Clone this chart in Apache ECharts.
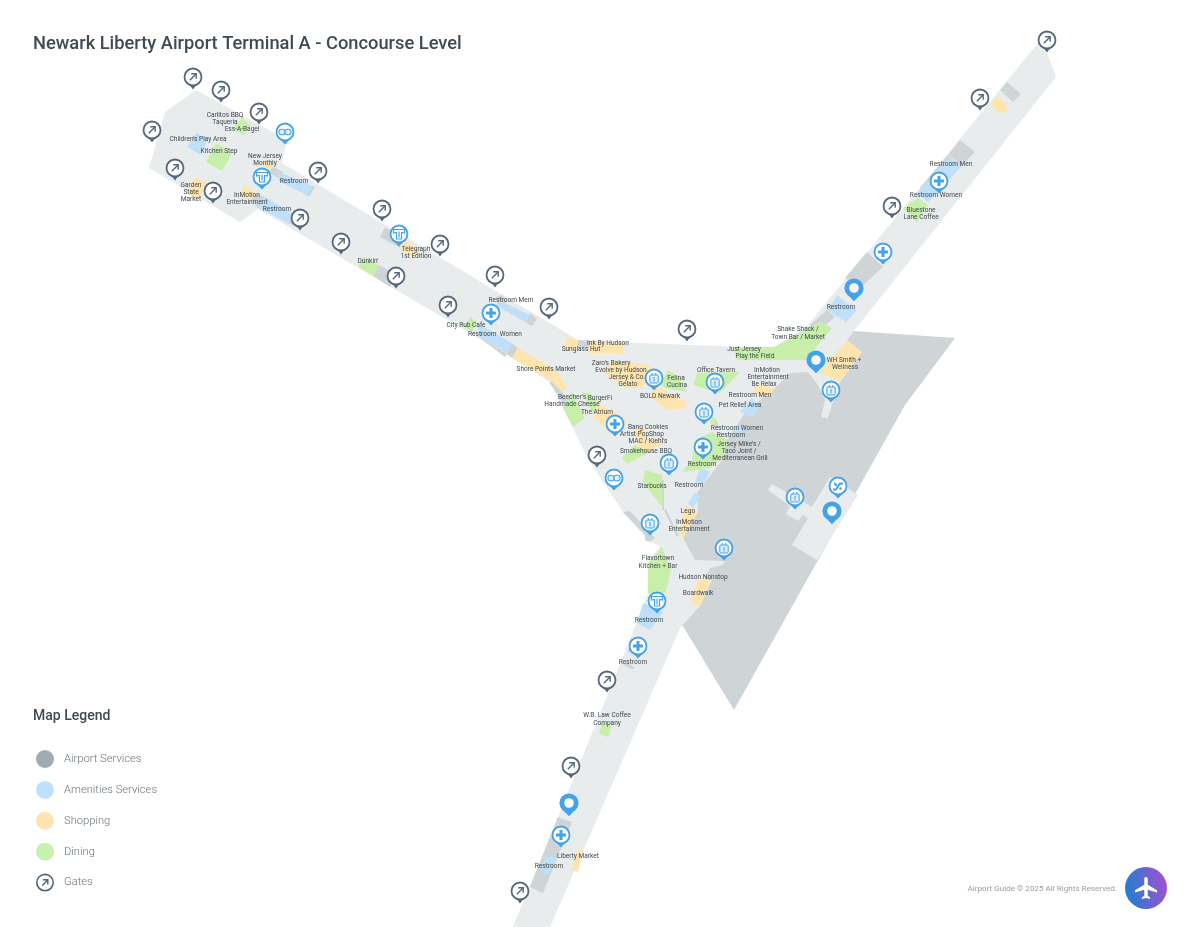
<!DOCTYPE html>
<html>
<head>
<meta charset="utf-8">
<title>Newark Liberty Airport Terminal A - Concourse Level</title>
<script src="https://cdn.jsdelivr.net/npm/echarts@6/dist/echarts.min.js"></script>
<style>
  html, body { margin: 0; padding: 0; background: #fff; }
  #chart { width: 1200px; height: 927px; }
</style>
</head>
<body>
<div id="chart"></div>
<script>
// map outlines
var apronArea = [
  [[853,331],[955,338],[905,405],[734,710],[681,623],[680,500],[720,400],[775,360]]
];
var floorAreas = [
  [[196,90],[287,140],[282,163],[578,340],[640,343],[772,348],[808,325],[1038,43],[1047,53],[1056,77],[853,332],[847,340],[862,352],[840,382],[836,397],[832,404],[828,418],[821,417],[825,400],[818,385],[808,372],[790,373],[773,390],[747,410],[737,425],[727,440],[722,460],[697,493],[698,512],[683,538],[695,560],[725,561],[723,565],[710,568],[705,580],[712,580],[700,606],[680,628],[550,927],[513,927],[623,657],[648,593],[648,563],[660,546],[650,542],[623,512],[587,457],[550,382],[512,358],[258,209],[240,222],[149,168],[165,112]],
  [[768,490],[772,484],[812,507],[830,477],[858,495],[817,560],[792,545],[808,518],[803,515],[798,521],[786,514],[790,506]]
];
var airportServices = [
  [[273,167],[283,172],[278,178],[268,172]],
  [[313,186],[306,195],[309,197],[315,187]],
  [[251,200],[256,193],[265,197],[258,208]],
  [[288,223],[293,214],[300,221],[298,228]],
  [[385,227],[402,237],[400,248],[380,237]],
  [[379,265],[397,275],[390,287],[373,276]],
  [[496,297],[502,295],[507,302],[498,306]],
  [[530,313],[537,319],[532,326],[525,322]],
  [[472,332],[480,337],[507,354],[505,357]],
  [[512,343],[518,348],[512,358],[506,353]],
  [[549,382],[555,381],[567,400],[563,403]],
  [[578,340],[593,341],[593,348],[578,347]],
  [[714,422],[717,421],[719,428],[715,428]],
  [[662,480],[664,480],[664,510],[662,510]],
  [[664,510],[666,509],[679,536],[677,537]],
  [[623,512],[630,511],[655,538],[650,542],[645,540],[645,535]],
  [[627,662],[635,668],[632,669],[623,665]],
  [[558,817],[572,822],[543,893],[530,887]],
  [[960,140],[975,152],[962,165],[948,155]],
  [[948,155],[951,158],[925,190],[920,188]],
  [[867,252],[883,267],[860,288],[845,278]],
  [[827,310],[835,317],[820,330],[810,325]],
  [[1007,82],[1021,94],[1013,102],[1000,90]]
];
var amenitiesServices = [
  [[197,133],[208,140],[201,155],[187,147]],
  [[279,172],[313,186],[306,195],[279,181]],
  [[265,197],[293,214],[288,223],[258,208]],
  [[502,302],[530,315],[525,322],[495,305]],
  [[477,323],[512,343],[507,353],[480,337]],
  [[740,412],[752,398],[760,408],[752,417]],
  [[737,425],[745,427],[740,435],[733,430]],
  [[700,468],[710,472],[703,485],[695,482]],
  [[695,493],[700,497],[693,508],[688,503]],
  [[643,603],[663,612],[650,630],[637,623]],
  [[632,640],[645,645],[640,657],[627,652]],
  [[545,855],[557,858],[548,875],[540,872]],
  [[950,157],[962,166],[928,202],[917,193]],
  [[838,295],[850,307],[842,320],[827,310]],
  [[846,303],[857,310],[846,322],[838,316]]
];
var shoppingAreas = [
  [[195,177],[207,183],[198,200],[187,193]],
  [[245,186],[256,193],[251,200],[238,195]],
  [[273,166],[267,172],[262,167],[265,160]],
  [[405,241],[420,250],[415,258],[400,250]],
  [[518,348],[550,367],[558,373],[567,388],[562,392],[550,380],[512,358]],
  [[568,337],[578,340],[578,350],[563,350]],
  [[590,342],[623,343],[623,353],[587,353]],
  [[612,362],[640,363],[655,368],[642,388],[625,388],[603,372]],
  [[655,385],[687,402],[686,408],[668,410],[650,397]],
  [[598,403],[627,420],[615,437],[593,417]],
  [[637,425],[647,430],[643,440],[634,437]],
  [[643,438],[667,442],[645,453],[635,445]],
  [[847,340],[862,352],[840,382],[820,372]],
  [[757,385],[775,388],[768,397],[753,393]],
  [[686,505],[698,512],[683,538],[679,533],[682,517]],
  [[698,580],[711,580],[700,606],[690,603]],
  [[577,850],[583,850],[578,872],[572,870]],
  [[997,96],[1009,107],[1002,114],[990,105]]
];
var diningAreas = [
  [[242,118],[251,125],[243,135],[233,128]],
  [[216,143],[232,153],[222,171],[206,162]],
  [[363,257],[379,265],[373,276],[358,267]],
  [[470,317],[477,322],[472,332],[465,327]],
  [[572,392],[585,418],[573,427],[563,407]],
  [[582,392],[590,393],[598,403],[593,415]],
  [[668,370],[680,378],[687,392],[665,388],[660,384]],
  [[697,373],[740,372],[720,393],[693,385]],
  [[622,458],[635,445],[650,452],[627,464]],
  [[645,470],[662,475],[663,508],[643,482]],
  [[695,440],[712,432],[727,440],[725,455],[710,468],[682,472],[692,460]],
  [[712,416],[717,420],[714,426],[710,423]],
  [[648,593],[648,563],[662,547],[671,570],[667,587],[665,593]],
  [[602,722],[612,725],[608,737],[599,734]],
  [[918,198],[928,205],[917,222],[903,208]],
  [[775,347],[820,322],[832,328],[806,360],[737,360],[733,347]]
];

// pins: circle centre of each marker
var gatePins = [[193,77],[221,90],[259,112],[152,130],[175,168],[213,191],[318,171],[300,218],[382,209],[341,242],[440,244],[396,276],[495,275],[448,305],[549,307],[687,329],[892,206],[980,98],[1047,40],[597,455],[607,680],[571,766],[520,891]];
var plusPins = [[491,313],[615,424],[703,447],[939,181],[883,252],[638,646],[561,835]];
var shirtPins = [[262,177],[399,234],[657,601]];
var bagPins = [[654,378],[715,382],[704,412],[669,463],[831,390],[795,497],[650,523],[724,548]];
var glassesPins = [[285,132],[614,478]];
var escalatorPins = [[838,486]];
var locationPins = [[854,288],[816,360],[832,511],[569,803]];

// place names: centre x, centre y, text
var placeLabels = [
  [225,115,"Carlitos BBQ"],[225,122,"Taqueria"],[242,129,"Ess-A-Bagel"],
  [198,139,"Children's Play Area"],[219,151,"Kitchen Step"],
  [265,156,"New Jersey"],[265,163,"Monthly"],
  [191,185,"Garden"],[191,192,"State"],[191,199,"Market"],
  [247,195,"InMotion"],[247,202,"Entertainment"],
  [294,181,"Restroom"],[277,209,"Restroom"],[368,261,"Dunkin'"],
  [416,249,"Telegraph"],[416,256,"1st Edition"],
  [511,300,"Restroom Mem"],[466,325,"City Rub Cafe"],[495,334,"Restroom  Women"],
  [546,369,"Shore Points Market"],[581,349,"Sunglass Hut"],[608,343,"Ink By Hudson"],
  [611,363,"Zaro's Bakery"],[621,370,"Evolve by Hudson"],[627,377,"Jersey & Co."],[628,384,"Gelato"],
  [660,396,"BOLD Newark"],[676,378,"Felina"],[677,385,"Cucina"],
  [572,397,"Beecher's"],[600,398,"BurgerFi"],[572,404,"Handmade Cheese"],[597,412,"The Atrium"],
  [648,427,"Bang Cookies"],[642,434,"Artist PopShop"],[648,441,"MAC / Kiehl's"],[646,451,"Smokehouse BBQ"],
  [652,486,"Starbucks"],[689,485,"Restroom"],[688,511,"Lego"],
  [689,522,"InMotion"],[689,529,"Entertainment"],
  [658,558,"Flavortown"],[658,566,"Kitchen + Bar"],[703,577,"Hudson Nonstop"],[698,593,"Boardwalk"],
  [649,620,"Restroom"],[633,662,"Restroom"],
  [607,715,"W.B. Law Coffee"],[607,723,"Company"],
  [578,856,"Liberty Market"],[549,866,"Restroom"],
  [716,370,"Office Tavern"],[767,370,"InMotion"],[768,377,"Entertainment"],[764,384,"Be Relax"],
  [744,349,"Just Jersey"],[755,356,"Play the Field"],
  [798,329,"Shake Shack /"],[798,337,"Town Bar / Market"],
  [844,360,"WH Smith +"],[845,367,"Wellness"],
  [750,395,"Restroom Men"],[740,405,"Pet Relief Area"],
  [737,428,"Restroom Women"],[731,435,"Restroom"],
  [739,444,"Jersey Mike's /"],[739,451,"Taco Joint /"],[740,458,"Mediterranean Grill"],[702,464,"Restroom"],
  [841,307,"Restroom"],[951,164,"Restroom Men"],[936,195,"Restroom Women"],
  [921,210,"Bluestone"],[921,217,"Lane Coffee"]
];

var logoPoint = [[1146,888]];

var legendNames = ["Airport Services", "Amenities Services", "Shopping", "Dining", "Gates"];
var legendColors = ["#a2abb0", "#bfe0f8", "#ffe3b2", "#c8f0ae", "#4f6478"];

var GATE = "#55687b", BLUE = "#42a2ea", FONT = "Roboto, sans-serif";
var gateIcon = "path://M9 0a9 9 0 1 0 0 18a9 9 0 1 0 0-18zM9 1.6a7.4 7.4 0 1 1 0 14.8a7.4 7.4 0 1 1 0-14.8zM5.7 11.3L10.1 6.9H7.1V5.5H12.5V10.9H11.1V7.9L6.7 12.3z";
var planePath = 'M21 16v-2l-8-5V3.5c0-.83-.67-1.5-1.5-1.5S10 2.67 10 3.5V9l-8 5v2l8-2.5V19l-2 1.5V22l3.5-1 3.5 1v-1.5L13 19v-5.5l8 2.5z';

var chart = echarts.init(document.getElementById('chart'));

function areaSeries(name, list, color, z) {
  return {
    type: 'custom', name: name, coordinateSystem: 'cartesian2d', silent: true, z: z, clip: false,
    data: list.map(function (p, i) { return [i]; }),
    renderItem: function (params, api) {
      return {
        type: 'polygon',
        shape: { points: list[api.value(0)].map(function (c) { return api.coord(c); }) },
        style: { fill: color }
      };
    }
  };
}

function pinBody(color, solid, tailWidth) {
  return [
    { type: 'polygon', shape: { points: [[-tailWidth, 7], [tailWidth, 7], [0, solid ? 13.2 : 12.6]] }, style: { fill: color } },
    { type: 'circle', shape: { cx: 0, cy: 0, r: solid ? 9.6 : 8.5 }, style: { fill: solid ? color : '#fff', stroke: solid ? null : color, lineWidth: 1.8 } }
  ];
}

function pinSeries(name, list, color, solid, icon, tailWidth) {
  return {
    type: 'custom', name: name, coordinateSystem: 'cartesian2d', silent: true, z: 6, clip: false,
    data: list,
    renderItem: function (params, api) {
      var pt = api.coord([api.value(0), api.value(1)]);
      return { type: 'group', x: pt[0], y: pt[1], children: pinBody(color, solid, tailWidth).concat(icon) };
    }
  };
}

var gateGlyph = [
  { type: 'polyline', shape: { points: [[-3.2, 3.2], [3, -3]] }, style: { stroke: GATE, lineWidth: 1.4, fill: null } },
  { type: 'polyline', shape: { points: [[-1.8, -3.2], [3.2, -3.2], [3.2, 1.8]] }, style: { stroke: GATE, lineWidth: 1.4, fill: null } }
];
var plusGlyph = [
  { type: 'rect', shape: { x: -5, y: -1.5, width: 10, height: 3, r: 0.6 }, style: { fill: BLUE } },
  { type: 'rect', shape: { x: -1.5, y: -5, width: 3, height: 10, r: 0.6 }, style: { fill: BLUE } }
];
var shirtGlyph = [
  { type: 'polygon', shape: { points: [[-5.5, -4.5], [5.5, -4.5], [5.5, -1], [2.5, -1.5], [2.5, 5], [-2.5, 5], [-2.5, -1.5], [-5.5, -1]] }, style: { fill: '#fff', stroke: BLUE, lineWidth: 1.2 } },
  { type: 'rect', shape: { x: -0.6, y: -2.5, width: 1.2, height: 6 }, style: { fill: BLUE } }
];
var bagGlyph = [
  { type: 'rect', shape: { x: -4.2, y: -3, width: 8.4, height: 8, r: 1 }, style: { fill: '#dbeefb', stroke: BLUE, lineWidth: 1 } },
  { type: 'rect', shape: { x: -2.2, y: -5, width: 1, height: 2 }, style: { fill: BLUE } },
  { type: 'rect', shape: { x: 1.2, y: -5, width: 1, height: 2 }, style: { fill: BLUE } },
  { type: 'rect', shape: { x: -0.5, y: -1, width: 1, height: 4.5 }, style: { fill: BLUE } }
];
var glassesGlyph = [
  { type: 'rect', shape: { x: -6, y: -2.8, width: 6, height: 5.6, r: 2.4 }, style: { fill: '#dbeefb', stroke: BLUE, lineWidth: 1.1 } },
  { type: 'rect', shape: { x: 0, y: -2.8, width: 6, height: 5.6, r: 2.4 }, style: { fill: '#dbeefb', stroke: BLUE, lineWidth: 1.1 } }
];
var escalatorGlyph = [
  { type: 'polyline', shape: { points: [[-5, 3.5], [-2, 3.5], [2, -2.5], [5, -2.5]] }, style: { stroke: BLUE, lineWidth: 1.8, fill: null } },
  { type: 'circle', shape: { cx: -2.5, cy: -1.5, r: 1.3 }, style: { fill: BLUE } },
  { type: 'polyline', shape: { points: [[-4, -4], [-1, 0.5]] }, style: { stroke: BLUE, lineWidth: 1, fill: null } },
  { type: 'circle', shape: { cx: 2.5, cy: 2.5, r: 1.3 }, style: { fill: BLUE } }
];
var locationGlyph = [
  { type: 'circle', shape: { cx: 0, cy: 0, r: 4.8 }, style: { fill: '#fff' } }
];

var labelSeries = {
  type: 'custom', name: 'Places', coordinateSystem: 'cartesian2d', silent: true, z: 5, clip: false,
  data: placeLabels.map(function (p, i) { return [i]; }),
  renderItem: function (params, api) {
    var row = placeLabels[api.value(0)];
    var pt = api.coord([row[0], row[1]]);
    return {
      type: 'text',
      style: { x: pt[0], y: pt[1], text: row[2], textAlign: 'center', textVerticalAlign: 'middle', fill: '#3f4a50', font: '6.55px ' + FONT }
    };
  }
};

var logoSeries = {
  type: 'custom', name: 'Logo', coordinateSystem: 'cartesian2d', silent: true, z: 10, clip: false,
  data: logoPoint,
  renderItem: function (params, api) {
    var pt = api.coord([api.value(0), api.value(1)]);
    return {
      type: 'group', x: pt[0], y: pt[1],
      children: [
        {
          type: 'circle', shape: { cx: 0, cy: 0, r: 21 },
          style: { fill: new echarts.graphic.LinearGradient(0, 0.6, 1, 0.4, [{ offset: 0, color: '#1f80d0' }, { offset: 1, color: '#a24fd2' }]) }
        },
        {
          type: 'path',
          shape: { pathData: planePath, layout: 'cover', x: -11, y: -11, width: 22, height: 22 },
          style: { fill: '#fff' }
        }
      ]
    };
  }
};

chart.setOption({
  animation: false,
  backgroundColor: '#fff',
  title: [
    { text: 'Newark Liberty Airport Terminal A - Concourse Level', left: 33, top: 35, padding: 0, textStyle: { fontFamily: FONT, fontSize: 18.3, fontWeight: 500, color: '#3e4a55' } },
    { text: 'Map Legend', left: 33, top: 709, padding: 0, textStyle: { fontFamily: FONT, fontSize: 14, fontWeight: 500, color: '#3e4a55' } },
    { text: 'Airport Guide © 2025 All Rights Reserved.', right: 83, top: 885, padding: 0, textStyle: { fontFamily: FONT, fontSize: 8.1, fontWeight: 400, color: '#98a0a6' } }
  ],
  legend: {
    orient: 'vertical', left: 36, top: 750, selectedMode: false, padding: 0,
    itemWidth: 18, itemHeight: 18, itemGap: 12.9,
    textStyle: { fontFamily: FONT, fontSize: 11.2, fontWeight: 300, color: '#69757d', padding: [0, 0, 0, 5] },
    data: legendNames.map(function (name, i) {
      return { name: name, icon: i === 4 ? gateIcon : 'circle', itemStyle: { color: legendColors[i] } };
    })
  },
  grid: { left: 0, right: 0, top: 0, bottom: 0 },
  xAxis: { type: 'value', min: 0, max: 1200, show: false },
  yAxis: { type: 'value', min: 0, max: 927, inverse: true, show: false },
  series: [
    areaSeries('Apron', apronArea, '#cfd5d7', 1),
    areaSeries('Floor', floorAreas, '#e8ecec', 2),
    areaSeries('Airport Services', airportServices, '#cfd5d7', 3),
    areaSeries('Amenities Services', amenitiesServices, '#bfe0f8', 3),
    areaSeries('Shopping', shoppingAreas, '#ffe4ae', 3),
    areaSeries('Dining', diningAreas, '#c8efaa', 3),
    labelSeries,
    pinSeries('Gates', gatePins, GATE, false, gateGlyph, 4),
    pinSeries('Plus', plusPins, BLUE, false, plusGlyph, 5),
    pinSeries('Shirt', shirtPins, BLUE, false, shirtGlyph, 5),
    pinSeries('Bag', bagPins, BLUE, false, bagGlyph, 5),
    pinSeries('Glasses', glassesPins, BLUE, false, glassesGlyph, 5),
    pinSeries('Escalator', escalatorPins, BLUE, false, escalatorGlyph, 5),
    pinSeries('Location', locationPins, BLUE, true, locationGlyph, 6),
    logoSeries
  ]
});
</script>
</body>
</html>
